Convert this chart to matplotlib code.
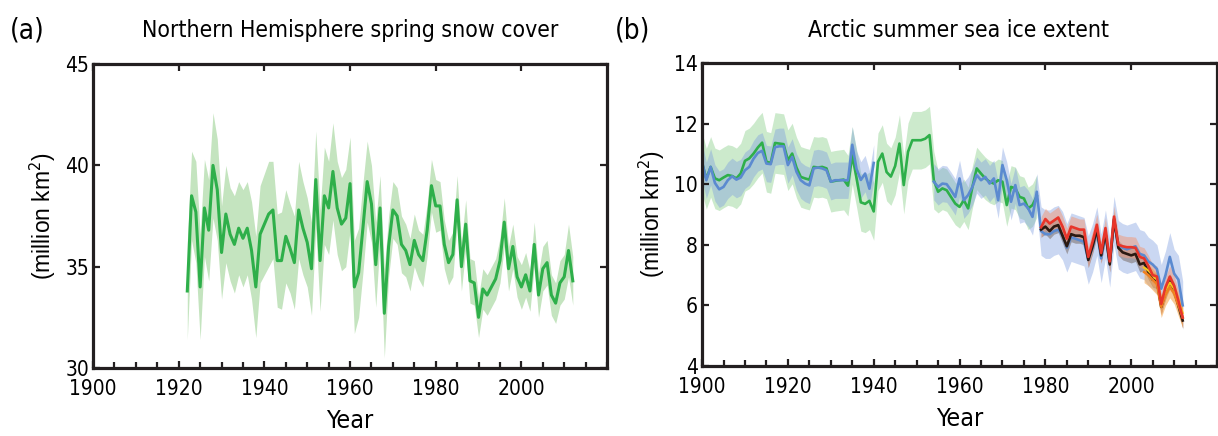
import numpy as np
import matplotlib
matplotlib.use("Agg")
import matplotlib.pyplot as plt
from matplotlib.ticker import MultipleLocator

plt.rcParams['font.family'] = ['DejaVu Sans']
plt.rcParams['font.stretch'] = 'condensed'

# (a) spring snow cover, 1922-2012
snow_years = list(range(1922, 2013))
snow_mean = [33.8, 38.5, 37.7, 34.0, 37.9, 36.8, 40.0, 38.8, 35.7, 37.6,
             36.6, 36.1, 36.9, 36.4, 36.9, 35.8, 34.0, 36.6, 37.1, 37.6,
             37.8, 35.3, 35.3, 36.5, 35.9, 35.2, 37.8, 36.9, 36.2, 34.9,
             39.3, 35.3, 38.5, 37.9, 39.7, 37.9, 37.1, 37.4, 39.1, 34.0,
             34.7, 36.9, 39.2, 38.1, 35.1, 37.9, 32.7, 36.0, 37.8, 37.5,
             36.1, 35.8, 35.1, 36.3, 35.6, 35.3, 36.8, 39.0, 38.0, 38.0,
             36.1, 35.2, 35.6, 38.3, 35.0, 37.1, 34.3, 34.2, 32.5, 33.9,
             33.6, 34.0, 34.4, 35.3, 37.2, 34.9, 36.0, 34.5, 34.0, 34.6,
             33.8, 36.1, 33.6, 34.9, 35.2, 33.6, 33.2, 34.2, 34.5, 35.8,
             34.3]
snow_err = [2.4, 2.2, 2.5, 2.6, 2.4, 2.5, 2.6, 2.5, 2.3, 2.4,
            2.3, 2.4, 2.3, 2.4, 2.3, 2.4, 2.5, 2.4, 2.5, 2.6,
            2.4, 2.3, 2.4, 2.3, 2.2, 2.3, 2.4, 2.3, 2.2, 2.3,
            2.4, 2.5, 2.4, 2.3, 2.4, 2.3, 2.3, 2.4, 2.3, 2.3,
            2.2, 2.2, 2.0, 1.9, 2.1, 1.6, 2.2, 1.5, 1.4, 1.4,
            1.4, 1.3, 1.3, 1.3, 1.2, 1.3, 1.3, 1.3, 1.3, 1.2,
            1.2, 1.1, 1.1, 1.2, 1.2, 1.2, 1.1, 1.1, 1.0, 1.0,
            1.0, 1.0, 1.0, 1.1, 1.2, 1.1, 1.1, 1.0, 1.1, 1.1,
            1.0, 1.1, 1.1, 1.1, 1.1, 1.0, 1.0, 1.1, 1.1, 1.3,
            1.2]

# (b) summer sea ice extent
green_years = list(range(1900, 1979))
green_mean = [10.70, 10.18, 10.57, 10.19, 10.13, 10.22, 10.30, 10.27, 10.19, 10.35,
              10.77, 10.85, 11.01, 11.21, 11.37, 10.74, 10.70, 11.36, 11.34, 11.32,
              10.79, 11.01, 10.55, 10.24, 10.19, 10.15, 10.57, 10.55, 10.57, 10.52,
              10.08, 10.11, 10.13, 10.15, 9.95, 10.95, 10.20, 9.40, 9.35, 9.45,
              9.10, 10.74, 11.01, 10.40, 10.25, 10.60, 11.34, 9.97, 11.07, 11.45,
              11.45, 11.45, 11.50, 11.62, 10.13, 9.75, 9.86, 9.80, 9.58, 9.36,
              9.25, 9.47, 9.20, 9.91, 10.52, 10.35, 10.19, 10.08, 10.02, 10.13,
              10.08, 9.31, 9.91, 9.86, 9.58, 9.53, 9.20, 9.31, 9.60]
green_err = [1.0] * 35 + [0.95] * 20 + [0.7] * 24

blue_early_years = list(range(1900, 1941))
blue_early = [10.74, 10.13, 10.57, 10.04, 9.83, 9.91, 10.13, 10.26, 10.15, 10.22,
              10.46, 10.57, 10.84, 11.03, 11.10, 10.68, 10.66, 11.22, 11.25, 11.25,
              10.63, 10.90, 10.41, 10.13, 10.02, 9.96, 10.52, 10.55, 10.52, 10.46,
              10.08, 10.13, 10.13, 10.13, 10.13, 11.30, 10.50, 10.14, 10.35, 9.85,
              10.70]
blue_late_years = list(range(1954, 2013))
blue_late = [10.08, 9.91, 10.02, 10.00, 9.80, 9.58, 10.19, 9.47, 9.64, 9.91,
             10.30, 10.13, 10.24, 10.02, 10.19, 9.47, 10.63, 10.13, 9.42, 9.97,
             9.31, 9.36, 9.20, 8.92, 9.75, 8.45, 8.35, 8.35, 8.45, 8.50,
             8.30, 7.90, 8.25, 8.20, 8.15, 8.10, 7.50, 7.90, 8.45, 7.55,
             8.35, 7.40, 8.80, 8.00, 7.90, 7.85, 7.90, 7.95, 7.70, 7.65,
             7.45, 7.35, 7.20, 6.55, 7.00, 7.60, 7.05, 6.85, 6.00]

sat_years = list(range(1979, 2013))
black_mean = [8.50, 8.60, 8.45, 8.60, 8.65, 8.30, 7.95, 8.35, 8.30, 8.30,
              8.25, 7.50, 7.95, 8.50, 7.65, 8.40, 7.35, 8.85, 7.90, 7.75,
              7.70, 7.65, 7.70, 7.35, 7.40, 7.10, 6.85, 6.80, 5.95, 6.45,
              6.80, 6.50, 6.00, 5.50]
red_mean = [8.58, 8.85, 8.70, 8.80, 8.90, 8.60, 8.20, 8.60, 8.55, 8.50,
            8.50, 7.60, 8.10, 8.66, 7.73, 8.55, 7.45, 8.93, 8.00, 7.95,
            7.92, 7.92, 7.90, 7.60, 7.55, 7.30, 7.00, 6.95, 6.05, 6.60,
            6.95, 6.65, 6.15, 5.60]

icesat_years = list(range(2003, 2013))
yellow_mean = [7.25, 7.15, 7.00, 6.85, 6.15, 6.50, 6.75, 6.55, 6.15, 5.75]
orange_mean = [7.10, 7.00, 6.85, 6.70, 5.95, 6.35, 6.60, 6.40, 6.00, 5.60]

GREEN = '#2eaf4a'
BLUE = '#5b8ad0'
INK = '#231f20'


def style_axes(ax):
    for s in ax.spines.values():
        s.set_linewidth(2.3)
        s.set_color(INK)
    ax.xaxis.set_major_locator(MultipleLocator(20))
    ax.xaxis.set_minor_locator(MultipleLocator(5))
    ax.tick_params(which='both', direction='in', width=1.6, color=INK,
                   labelsize=15, left=True, right=True, bottom=True)
    ax.tick_params(which='major', length=5, top=True)
    ax.tick_params(which='minor', length=4, top=False)
    ax.tick_params(axis='x', pad=8)
    ax.tick_params(axis='y', which='major', pad=3)
    ax.tick_params(axis='y', which='minor', left=False, right=False)
    ax.set_xlim(1900, 2020)
    ax.set_xticks(range(1900, 2001, 20))
    ax.set_xlabel('Year', fontsize=18, labelpad=7)
    ax.set_ylabel('(million km$^2$)', fontsize=16.5, family='Liberation Sans',
                  stretch='normal', labelpad=5)


fig = plt.figure(figsize=(12.18, 4.36), dpi=100)
ax1 = fig.add_axes([0.0764, 0.156, 0.422, 0.697])
ax2 = fig.add_axes([0.5764, 0.1606, 0.4228, 0.695])

# snow cover
sy = np.array(snow_years)
sm = np.array(snow_mean)
se = np.array(snow_err)
ax1.fill_between(sy, sm - se, sm + se, color='#c4e4bf', lw=0)
ax1.plot(sy, sm, color=GREEN, lw=2.2)
ax1.set_ylim(30, 45)
ax1.set_yticks([30, 35, 40, 45])
style_axes(ax1)

# sea ice
gy = np.array(green_years)
gm = np.array(green_mean)
ge = np.array(green_err)
ax2.fill_between(gy, gm - ge, gm + ge, color='#8fd18f', alpha=0.45, lw=0)
for yrs, vals in [(blue_early_years, blue_early), (blue_late_years, blue_late)]:
    yrs = np.array(yrs)
    v = np.array(vals)
    be = np.where(yrs >= 1979, 0.8, 0.6)
    ax2.fill_between(yrs, v - be, v + be, color='#7b9be0', alpha=0.4, lw=0)
ax2.plot(gy, gm, color=GREEN, lw=1.9)
ax2.plot(blue_early_years, blue_early, color=BLUE, lw=1.9)
ax2.plot(blue_late_years, blue_late, color=BLUE, lw=1.9)

bm = np.array(black_mean)
rm = np.array(red_mean)
ax2.fill_between(sat_years, bm - 0.25, bm + 0.25, color='#7a6e6a', alpha=0.55, lw=0)
ax2.fill_between(sat_years, rm - 0.35, rm + 0.35, color='#ef9c7e', alpha=0.55, lw=0)
om = np.array(orange_mean)
ax2.fill_between(icesat_years, om - 0.35, om + 0.35, color='#f5a040', alpha=0.55, lw=0)
ax2.plot(sat_years, bm, color='#2b1a12', lw=1.9)
ax2.plot(icesat_years, om, color='#f08020', lw=1.8)
ax2.plot(icesat_years, yellow_mean, color='#f7c81e', lw=1.6)
ax2.plot(sat_years, rm, color='#e8352a', lw=1.9)
ax2.set_ylim(4, 14)
ax2.set_yticks(range(4, 15, 2))
style_axes(ax2)

fig.text(0.008, 0.931, '(a)', fontsize=20, va='center', ha='left')
fig.text(0.2874, 0.931, 'Northern Hemisphere spring snow cover', fontsize=16.5, va='center', ha='center')
fig.text(0.505, 0.931, '(b)', fontsize=20, va='center', ha='left')
fig.text(0.787, 0.931, 'Arctic summer sea ice extent', fontsize=16.5, va='center', ha='center')

fig.savefig('out.png', dpi=100)
